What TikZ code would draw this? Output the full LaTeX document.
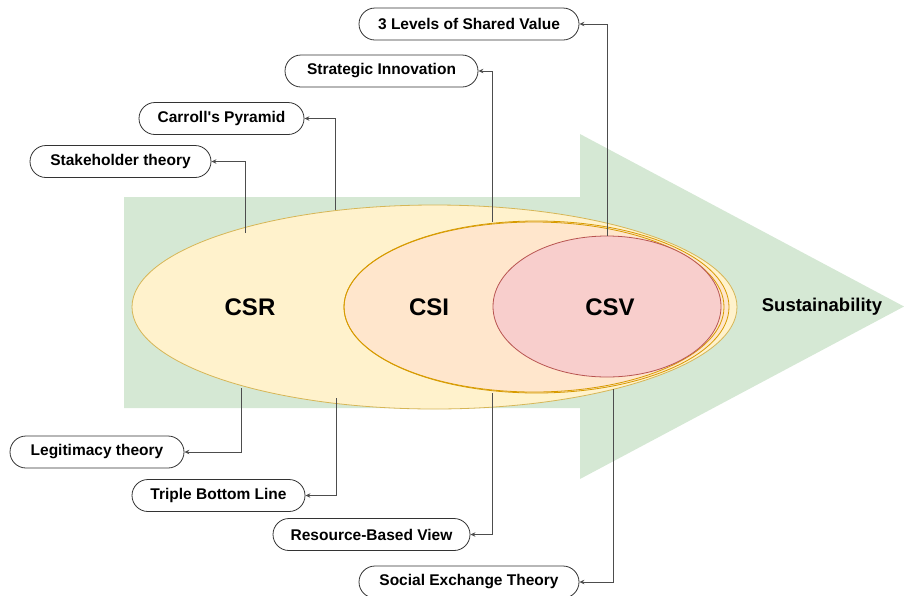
\documentclass[tikz,border=0pt]{standalone}
\usepackage{fontspec}
\setmainfont{Liberation Sans}
% same face without TeX input ligatures, so ' stays a straight quote
\newfontfamily\plainsans{Liberation Sans}
\usetikzlibrary{arrows.meta,shapes.geometric}
\definecolor{arrowgreen}{HTML}{D5E8D4}
\definecolor{csrfill}{HTML}{FFF2CC}
\definecolor{csrline}{HTML}{D6B656}
\definecolor{csifill}{HTML}{FFE6CC}
\definecolor{csiline}{HTML}{D79B00}
\definecolor{csvfill}{HTML}{F8CECC}
\definecolor{csvline}{HTML}{B85450}
\definecolor{linkgrey}{HTML}{4D4D4D}
\tikzset{
  theory/.style={draw=black!80, line width=0.8pt, fill=white, rounded corners=16pt,
    minimum height=32pt, inner sep=0pt, font=\plainsans\bfseries\fontsize{15.5}{18}\selectfont},
  blob/.style={ellipse, inner sep=0pt, line width=0.8pt},
  bigtag/.style={font=\bfseries\fontsize{24}{28}\selectfont},
  link/.style={draw=linkgrey, line width=0.9pt, -{Stealth[length=5pt,width=4.5pt]}}
}
\begin{document}
\begin{tikzpicture}[x=1pt,y=-1pt]
\useasboundingbox (0,0) rectangle (904,595);

% big green arrow
\fill[arrowgreen] (124,197) -- (580,197) -- (580,134) -- (904,306.5)
  -- (580,479) -- (580,408) -- (124,408) -- cycle;

% nested ellipses
\node[blob, fill=csrfill, draw=csrline, minimum width=605pt, minimum height=204pt] (csr) at (434.5,307) {};
\node[blob, fill=csifill, draw=csiline, minimum width=385pt, minimum height=172pt] (csi) at (536.5,307) {};
\node[blob, draw=csiline, minimum width=380pt, minimum height=170pt] (csib) at (534,307) {};
\node[blob, fill=csvfill, draw=csvline, minimum width=228pt, minimum height=141pt] (csv) at (607,306.5) {};

% labels
\node[bigtag] (tcsr) at (250,307) {CSR};
\node[bigtag] (tcsi) at (429,307) {CSI};
\node[bigtag] (tcsv) at (610,307) {CSV};
\node[font=\bfseries\fontsize{18.5}{22}\selectfont] (tsus) at (822,306.5) {Sustainability};

% theory boxes
\node[theory, minimum width=220pt] (lv)  at (469,24)    {3 Levels of Shared Value};
\node[theory, minimum width=193pt] (si)  at (381.5,71)  {Strategic Innovation};
\node[theory, minimum width=165pt] (cp)  at (221.5,118.5) {Carroll's Pyramid};
\node[theory, minimum width=181pt] (st)  at (120.5,161.5) {Stakeholder theory};
\node[theory, minimum width=174pt] (lt)  at (97,452)    {Legitimacy theory};
\node[theory, minimum width=173pt] (tbl) at (218.5,495.5) {Triple Bottom Line};
\node[theory, minimum width=197pt] (rbv) at (371.5,534.5) {Resource-Based View};
\node[theory, minimum width=220pt] (se)  at (469,582)   {Social Exchange Theory};

% connector roots on the ellipses
\coordinate (pSI)  at (492,222);
\coordinate (pCP)  at (335,210);
\coordinate (pST)  at (245.5,233);
\coordinate (pLT)  at (241,388);
\coordinate (pTBL) at (336,398);
\coordinate (pRBV) at (492,393);
\coordinate (pSE)  at (613,389);

% connectors
\draw[link] (csv.north) |- (lv.east);
\draw[link] (pSI) |- (si.east);
\draw[link] (pCP) |- (cp.east);
\draw[link] (pST) |- (st.east);
\draw[link] (pLT) |- (lt.east);
\draw[link] (pTBL) |- (tbl.east);
\draw[link] (pRBV) |- (rbv.east);
\draw[link] (pSE) |- (se.east);
\end{tikzpicture}
\end{document}
